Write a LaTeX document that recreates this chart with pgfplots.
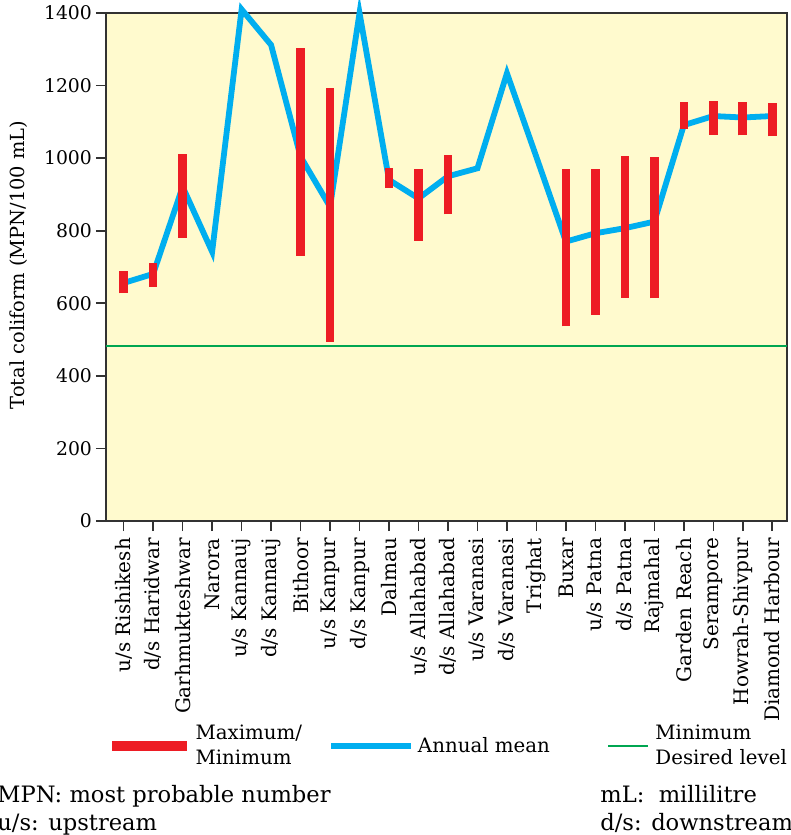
\documentclass[border=0pt]{standalone}
\usepackage{pgfplots}
\pgfplotsset{compat=1.18}
\usepackage{fontspec}
\setmainfont{DejaVu Serif}

\definecolor{bgyellow}{RGB}{255,250,206}
\definecolor{maxred}{RGB}{237,28,36}
\definecolor{meanblue}{RGB}{0,174,239}
\definecolor{levelgreen}{RGB}{0,166,81}
\definecolor{frame}{RGB}{50,50,50}

\begin{document}
\begin{tikzpicture}
\begin{axis}[
    scale only axis,
    width=340.5pt,
    height=254pt,
    xmin=-0.6, xmax=22.5,
    ymin=0, ymax=1400,
    clip=false,
    axis background/.style={fill=bgyellow},
    axis line style={frame, line width=1pt},
    xtick={0,...,22},
    xticklabels={u/s Rishikesh, d/s Haridwar, Garhmukteshwar, Narora,
        u/s Kannauj, d/s Kannauj, Bithoor, u/s Kanpur, d/s Kanpur, Dalmau,
        u/s Allahabad, d/s Allahabad, u/s Varanasi, d/s Varanasi, Trighat,
        Buxar, u/s Patna, d/s Patna, Rajmahal, Garden Reach, Serampore,
        Howrah-Shivpur, Diamond Harbour},
    ytick={0,200,...,1400},
    tick align=outside,
    major tick length=5pt,
    tick style={frame, line width=0.8pt},
    xtick pos=bottom, ytick pos=left,
    /pgf/number format/assume math mode=true,
    /pgf/number format/1000 sep={},
    yticklabel style={font=\fontsize{9.4}{11}\selectfont, xshift=1.5pt},
    xticklabel style={rotate=90, anchor=east, font=\fontsize{10}{12}\selectfont},
    ylabel={Total coliform (MPN/100 mL)},
    ylabel style={at={(axis description cs:-0.129,0.504)}, anchor=center,
        font=\fontsize{9.7}{11}\selectfont},
    legend columns=3,
    legend style={at={(axis description cs:0.0015,-0.443)}, anchor=west,
        draw=none, fill=none, inner sep=0pt,
        font=\fontsize{9.9}{12.3}\selectfont,
        cells={align=left, inner sep=0pt},
        /tikz/column 1/.style={column sep=0pt},
        /tikz/column 2/.style={column sep=11pt},
        /tikz/column 3/.style={column sep=0pt},
        /tikz/column 4/.style={column sep=26.5pt},
        /tikz/column 5/.style={column sep=1pt}},
]

% min/max bars (legend entry; redrawn on top below)
\addplot[maxred, line width=4.3pt, unbounded coords=jump,
    legend image code/.code={\draw[maxred, line width=4.6pt] (0pt,0pt) -- (37.5pt,0pt);}]
coordinates {
    (0,628) (0,690) (0,nan)
    (1,646) (1,710) (1,nan)
    (2,781) (2,1011) (2,nan)
    (6,731) (6,1304) (6,nan)
    (7,494) (7,1192) (7,nan)
    (9,918) (9,974) (9,nan)
    (10,772) (10,969) (10,nan)
    (11,846) (11,1009) (11,nan)
    (15,537) (15,969) (15,nan)
    (16,568) (16,969) (16,nan)
    (17,615) (17,1007) (17,nan)
    (18,614) (18,1004) (18,nan)
    (19,1080) (19,1154) (19,nan)
    (20,1065) (20,1157) (20,nan)
    (21,1063) (21,1154) (21,nan)
    (22,1061) (22,1152)
};
\addlegendentry{Maximum/\\Minimum}

% annual mean
\addplot[meanblue, line width=2.9pt, line join=miter,
    legend image code/.code={\draw[meanblue, line width=2.9pt] (0pt,0pt) -- (40pt,0pt);}]
coordinates {
    (0,656) (1,681) (2,921) (3,742) (4,1410) (5,1312) (6,1004)
    (7,866) (8,1400) (9,940) (10,889) (11,950) (12,972) (13,1234)
    (14,1003) (15,770) (16,793) (17,807) (18,825) (19,1091)
    (20,1116) (21,1112) (22,1116)
};
\addlegendentry{Annual mean}

% minimum desired level
\addplot[levelgreen, line width=1.2pt,
    legend image code/.code={\draw[levelgreen, line width=1.2pt] (0pt,0pt) -- (20pt,0pt);}]
coordinates {(-0.6,483) (22.5,483)};
\addlegendentry{Minimum\\Desired level}

\addplot[maxred, line width=4.3pt, unbounded coords=jump, forget plot]
coordinates {
    (0,628) (0,690) (0,nan)
    (1,646) (1,710) (1,nan)
    (2,781) (2,1011) (2,nan)
    (6,731) (6,1304) (6,nan)
    (7,494) (7,1192) (7,nan)
    (9,918) (9,974) (9,nan)
    (10,772) (10,969) (10,nan)
    (11,846) (11,1009) (11,nan)
    (15,537) (15,969) (15,nan)
    (16,568) (16,969) (16,nan)
    (17,615) (17,1007) (17,nan)
    (18,614) (18,1004) (18,nan)
    (19,1080) (19,1154) (19,nan)
    (20,1065) (20,1157) (20,nan)
    (21,1063) (21,1154) (21,nan)
    (22,1061) (22,1152)
};
\end{axis}

\begin{scope}[every node/.style={inner sep=0pt, font=\fontsize{11.3}{13}\selectfont}]
\node[anchor=base west] at (-54.5pt,-140.5pt) {MPN: most probable number};
\node[anchor=base west] at (-54.5pt,-154.5pt) {u/s: upstream};
\node[anchor=base west] at (247pt,-140.5pt) {mL:\ \ millilitre};
\node[anchor=base west] at (247pt,-154.5pt) {d/s: downstream};
\end{scope}

\pgfresetboundingbox
\path[use as bounding box] (-53pt,-157pt) rectangle (342.5pt,260.5pt);
\end{tikzpicture}
\end{document}
